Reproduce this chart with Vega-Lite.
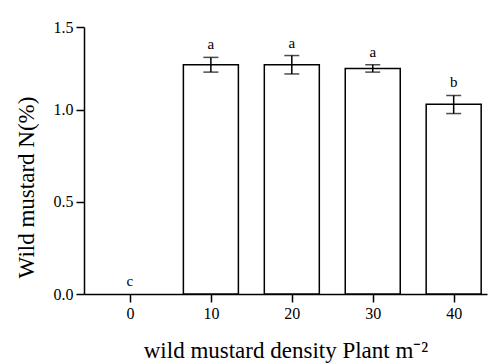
{
  "$schema": "https://vega.github.io/schema/vega-lite/v6.json",
  "width": 403,
  "height": 267,
  "autosize": {"type": "none"},
  "padding": {"left": 84, "top": 27, "right": 7, "bottom": 69},
  "background": "white",
  "config": {
    "view": {"stroke": null},
    "font": "Liberation Serif",
    "axis": {
      "grid": false,
      "domainColor": "black",
      "domainWidth": 1.5,
      "tickColor": "black",
      "tickWidth": 1.5,
      "labelFont": "Liberation Serif",
      "titleFont": "Liberation Serif",
      "labelColor": "black",
      "titleColor": "black",
      "labelFontSize": 16,
      "titleFontSize": 23,
      "titleFontWeight": "normal"
    }
  },
  "data": {
    "values": [
      {"density": 0, "N": 0, "lo": 0, "hi": 0, "letter": "c"},
      {"density": 10, "N": 1.245, "lo": 1.205, "hi": 1.285, "letter": "a"},
      {"density": 20, "N": 1.245, "lo": 1.195, "hi": 1.295, "letter": "a"},
      {"density": 30, "N": 1.224, "lo": 1.205, "hi": 1.245, "letter": "a"},
      {"density": 40, "N": 1.03, "lo": 0.98, "hi": 1.078, "letter": "b"}
    ]
  },
  "encoding": {
    "x": {
      "field": "density",
      "type": "quantitative",
      "scale": {"domain": [-5.06, 43.5], "nice": false, "zero": false},
      "axis": {
        "values": [0, 10, 20, 30, 40],
        "title": "wild mustard density Plant m⁻²",
        "tickSize": 8,
        "labelPadding": 3,
        "titleBaseline": "alphabetic",
        "titleY": 63
      }
    }
  },
  "layer": [
    {
      "transform": [{"filter": "datum.N > 0"}],
      "mark": {"type": "bar", "width": 55, "fill": "white", "stroke": "black", "strokeWidth": 1.5},
      "encoding": {
        "y": {
          "field": "N",
          "type": "quantitative",
          "scale": {"domain": [0, 1.45], "nice": false},
          "axis": {
            "values": [0, 0.5, 1, 1.45],
            "labelExpr": "datum.value >= 1.4 ? '1.5' : format(datum.value, '.1f')",
            "title": "Wild mustard N(%)",
            "tickSize": 8,
            "labelPadding": 3,
            "titleBaseline": "alphabetic",
            "titleX": -51,
            "titleY": 160
          }
        }
      }
    },
    {
      "transform": [{"filter": "datum.density > 0"}],
      "mark": {"type": "rule", "color": "black", "strokeWidth": 1.5},
      "encoding": {
        "y": {"field": "lo", "type": "quantitative"},
        "y2": {"field": "hi"}
      }
    },
    {
      "transform": [{"filter": "datum.density > 0"}],
      "mark": {"type": "tick", "orient": "horizontal", "size": 15, "thickness": 1.5, "color": "black"},
      "encoding": {"y": {"field": "lo", "type": "quantitative"}}
    },
    {
      "transform": [{"filter": "datum.density > 0"}],
      "mark": {"type": "tick", "orient": "horizontal", "size": 15, "thickness": 1.5, "color": "black"},
      "encoding": {"y": {"field": "hi", "type": "quantitative"}}
    },
    {
      "mark": {"type": "text", "baseline": "bottom", "dy": -5, "fontSize": 15, "font": "Liberation Serif", "color": "black"},
      "encoding": {
        "y": {"field": "hi", "type": "quantitative"},
        "text": {"field": "letter"}
      }
    }
  ]
}
